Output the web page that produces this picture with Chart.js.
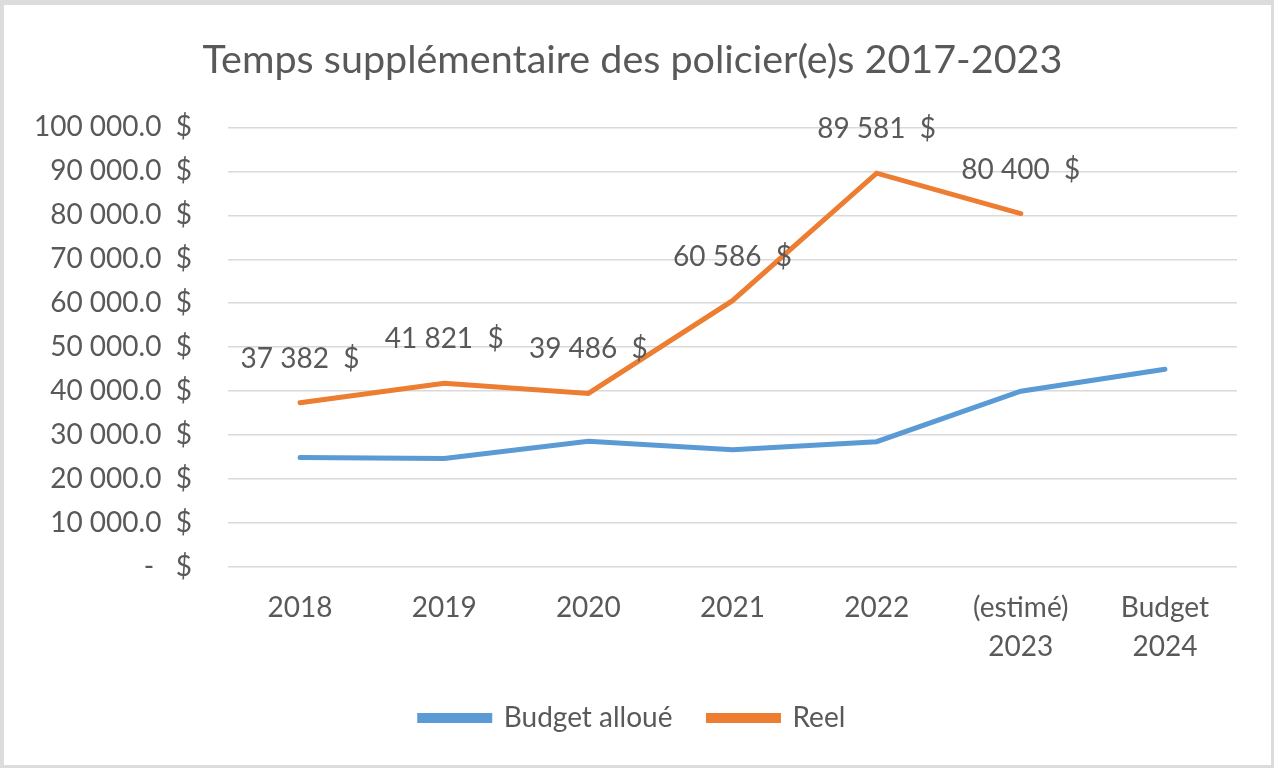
<!DOCTYPE html>
<html>
<head>
<meta charset="utf-8">
<script src="https://cdn.jsdelivr.net/npm/chart.js@4"></script>
<style>
  html, body { margin: 0; padding: 0; background: #dcdcdc; }
  #frame {
    position: absolute; left: 4px; top: 5px;
    width: 1267px; height: 760px; background: #ffffff;
  }
</style>
</head>
<body>
<div id="frame"><canvas id="overtimeChart" width="1267" height="760"></canvas></div>
<script>
// categories (x axis), two-line labels where the sheet wraps them
const categories = ['2018', '2019', '2020', '2021', '2022', ['(estimé)', '2023'], ['Budget', '2024']];

// series values
const budgetAlloue = [24900, 24700, 28600, 26700, 28500, 40000, 45000];
const reel = [37382, 41821, 39486, 60586, 89581, 80400, null];

// y axis tick labels, from 0 to 100 000
const yTickLabels = [
    '-   $', '10 000.0  $', '20 000.0  $', '30 000.0  $', '40 000.0  $', '50 000.0  $',
    '60 000.0  $', '70 000.0  $', '80 000.0  $', '90 000.0  $', '100 000.0  $'
];

const textColor = '#595959';
const fontFamily = 'Lato, "Noto Sans", sans-serif';

function money(n) {
    return String(n).replace(/\B(?=(\d{3})+(?!\d))/g, ' ') + '  $';
}

// labels above the "Reel" points, like the Excel data labels
const valueLabels = {
    id: 'valueLabels',
    afterDatasetsDraw(chart) {
        const ctx = chart.ctx;
        const meta = chart.getDatasetMeta(1);
        ctx.save();
        ctx.font = '28px ' + fontFamily;
        ctx.fillStyle = textColor;
        ctx.textAlign = 'center';
        ctx.textBaseline = 'middle';
        meta.data.forEach((pt, i) => {
            if (reel[i] == null) return;
            ctx.fillText(money(reel[i]), pt.x, pt.y - 44);
        });
        ctx.restore();
    }
};

const ctx = document.getElementById('overtimeChart').getContext('2d');

new Chart(ctx, {
    type: 'line',
    data: {
        labels: categories,
        datasets: [{
            label: 'Budget alloué',
            data: budgetAlloue,
            borderColor: '#5B9BD5',
            backgroundColor: '#5B9BD5',
            borderWidth: 5,
            borderCapStyle: 'round',
            pointRadius: 0,
            tension: 0
        }, {
            label: 'Reel',
            data: reel,
            borderColor: '#ED7D31',
            backgroundColor: '#ED7D31',
            borderWidth: 5,
            borderCapStyle: 'round',
            pointRadius: 0,
            tension: 0
        }]
    },
    options: {
        responsive: false,
        animation: false,
        layout: { padding: { left: 24, right: 34, top: 0, bottom: 23 } },
        scales: {
            x: {
                offset: true,
                afterFit: scale => { scale.height = 101; },
                grid: { display: false },
                border: { display: false },
                ticks: {
                    color: textColor,
                    padding: 13,
                    maxRotation: 0,
                    font: { family: fontFamily, size: 28, lineHeight: 1.4 }
                }
            },
            y: {
                min: 0,
                max: 100000,
                afterFit: scale => { scale.width = 200; },
                afterBuildTicks: scale => {
                    scale.ticks = yTickLabels.map((_, i) => ({ value: i * 10000 }));
                },
                grid: { color: '#d9d9d9', lineWidth: 1.5, drawTicks: false },
                border: { display: false },
                ticks: {
                    color: textColor,
                    padding: 36,
                    font: { family: fontFamily, size: 28 },
                    callback: (value, index) => yTickLabels[index]
                }
            }
        },
        plugins: {
            title: {
                display: true,
                text: 'Temps supplémentaire des policier(e)s 2017-2023',
                color: textColor,
                font: { family: fontFamily, size: 39.5, weight: 'normal' },
                padding: { top: 32, bottom: 43 }
            },
            legend: {
                position: 'bottom',
                maxHeight: 98,
                labels: {
                    color: textColor,
                    boxWidth: 70,
                    boxHeight: 5,
                    padding: 36,
                    font: { family: fontFamily, size: 28 }
                }
            },
            tooltip: { enabled: false }
        }
    },
    plugins: [valueLabels]
});
</script>
</body>
</html>
